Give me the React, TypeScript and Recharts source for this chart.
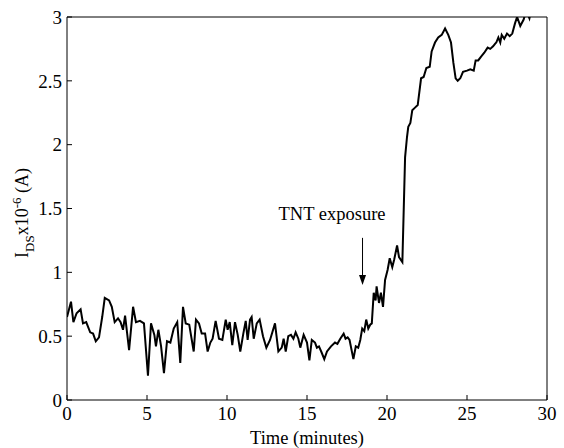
import { LineChart, Line, XAxis, YAxis, ReferenceLine } from 'recharts'

// time in minutes
const minutes = [
  0, 0.25, 0.4, 0.6, 0.85, 1.0, 1.2, 1.45, 1.63, 1.8, 2.0, 2.2, 2.36, 2.63, 2.8, 2.98,
  3.19, 3.35, 3.5, 3.63, 3.88, 4.13, 4.31, 4.56, 4.81, 5.06, 5.25, 5.46, 5.56, 5.71,
  5.88, 6.06, 6.25, 6.46, 6.67, 6.89, 7.08, 7.25, 7.42, 7.64, 7.92, 8.06, 8.25, 8.42,
  8.63, 8.79, 8.96, 9.1, 9.29, 9.5, 9.71, 9.92, 10.04, 10.17, 10.33, 10.5, 10.67, 10.83,
  11.02, 11.17, 11.29, 11.44, 11.54, 11.67, 11.86, 12.04, 12.25, 12.46, 12.69, 13.0,
  13.21, 13.42, 13.54, 13.67, 13.83, 14.0, 14.15, 14.29, 14.46, 14.58, 14.79, 15.0,
  15.15, 15.3, 15.5, 15.62, 15.75, 15.92, 16.08, 16.25, 16.5, 16.75, 16.9, 17.08,
  17.29, 17.41, 17.54, 17.66, 17.9, 18.05, 18.2, 18.33, 18.45, 18.58, 18.7, 18.83,
  18.95, 19.05, 19.17, 19.29, 19.35, 19.5, 19.62, 19.75, 19.88, 20.04, 20.17, 20.33,
  20.45, 20.63, 20.75, 20.96, 21.13, 21.25, 21.33, 21.46, 21.58, 21.75, 21.92, 22.13,
  22.29, 22.46, 22.67, 22.79, 23.0, 23.2, 23.42, 23.63, 23.83, 24.0, 24.15, 24.29,
  24.42, 24.58, 24.75, 25.0, 25.21, 25.42, 25.54, 25.7, 25.88, 26.08, 26.29, 26.45,
  26.63, 26.75, 26.83, 26.96, 27.08, 27.17, 27.33, 27.5, 27.67, 27.83, 28.0, 28.13,
  28.33, 28.54, 28.7, 28.9, 29.0,
]

// I_DS in units of 1e-6 A
const current = [
  0.65, 0.77, 0.61, 0.68, 0.71, 0.6, 0.61, 0.53, 0.52, 0.46, 0.49, 0.65, 0.8, 0.78, 0.73, 0.61,
  0.64, 0.61, 0.55, 0.66, 0.39, 0.73, 0.61, 0.62, 0.6, 0.19, 0.6, 0.51, 0.42, 0.55,
  0.42, 0.21, 0.46, 0.45, 0.56, 0.61, 0.29, 0.73, 0.6, 0.59, 0.38, 0.63, 0.6, 0.52,
  0.52, 0.38, 0.45, 0.48, 0.62, 0.48, 0.47, 0.63, 0.55, 0.61, 0.43, 0.61, 0.51, 0.38,
  0.52, 0.62, 0.47, 0.63, 0.65, 0.48, 0.6, 0.63, 0.5, 0.41, 0.47, 0.6,
  0.38, 0.41, 0.48, 0.38, 0.5, 0.51, 0.48, 0.53, 0.48, 0.41, 0.51, 0.45,
  0.31, 0.47, 0.45, 0.41, 0.42, 0.37, 0.32, 0.38, 0.42, 0.45, 0.44, 0.48,
  0.52, 0.48, 0.49, 0.47, 0.32, 0.42, 0.41, 0.47, 0.56, 0.54, 0.63, 0.56,
  0.59, 0.6, 0.84, 0.78, 0.89, 0.76, 0.84, 0.73, 0.94, 1.02, 1.11, 1.04,
  1.1, 1.21, 1.12, 1.08, 1.9, 2.06, 2.14, 2.17, 2.27, 2.29, 2.31, 2.52,
  2.53, 2.6, 2.61, 2.73, 2.8, 2.84, 2.86, 2.91, 2.86, 2.8, 2.64, 2.52,
  2.5, 2.52, 2.57, 2.58, 2.59, 2.58, 2.66, 2.66, 2.69, 2.72, 2.76, 2.75,
  2.77, 2.79, 2.8, 2.84, 2.8, 2.86, 2.83, 2.87, 2.85, 2.87, 2.95, 3.0,
  2.93, 2.98, 3.05, 2.99, 3.05,
]

const xTicks = [0, 5, 10, 15, 20, 25, 30]
const yTicks = [0, 0.5, 1, 1.5, 2, 2.5, 3]

// TNT exposure arrow (time, from, to)
const exposureTime = 18.47
const exposureFrom = 1.27
const exposureTo = 0.9

const data = minutes.map((t, i) => ({ t, ids: current[i] }))

const serif = '"Liberation Serif", "Times New Roman", serif'
const tickStyle = { fontSize: 19, fill: '#000', fontFamily: serif }

function ExposureArrow(props: any) {
  const { x1, y1, x2, y2 } = props
  if (x1 == null || y1 == null) return null
  return (
    <g>
      <line x1={x1} y1={y1} x2={x2} y2={y2 - 9} stroke="#000" strokeWidth={1} />
      <polygon points={`${x2 - 3.5},${y2 - 10} ${x2 + 3.5},${y2 - 10} ${x2},${y2}`} fill="#000" />
      <text x={x1 + 23} y={y1 - 18} textAnchor="end" fontSize={18.5} fontFamily={serif} fill="#000">
        TNT exposure
      </text>
    </g>
  )
}

function YTitle() {
  return (
    <text
      x={28}
      y={213}
      transform="rotate(-90, 28, 213)"
      textAnchor="middle"
      fontFamily={serif}
      fontSize={18}
      fill="#000"
    >
      <tspan>I</tspan>
      <tspan dy={6} fontSize={13}>DS</tspan>
      <tspan dy={-6}>x10</tspan>
      <tspan dy={-7} fontSize={13}>-6</tspan>
      <tspan dy={7}> (A)</tspan>
    </text>
  )
}

function XTitle() {
  return (
    <text x={307} y={444} textAnchor="middle" fontFamily={serif} fontSize={18.5} fill="#000">
      Time (minutes)
    </text>
  )
}

export default function App() {
  return (
    <div style={{ position: 'absolute', left: 0, top: 0, background: '#fff' }}>
      <LineChart width={564} height={448} data={data} margin={{ top: 16, right: 16, bottom: 47, left: 66 }}>
        <XAxis
          xAxisId="b"
          dataKey="t"
          type="number"
          domain={[0, 30]}
          ticks={xTicks}
          interval={0}
          allowDataOverflow
          orientation="bottom"
          height={1}
          tickSize={-5}
          tickMargin={12}
          tick={tickStyle}
          axisLine={{ stroke: '#000', strokeWidth: 1 }}
          tickLine={{ stroke: '#000' }}
          label={{ content: () => <XTitle /> }}
        />
        <XAxis
          xAxisId="t"
          dataKey="t"
          type="number"
          domain={[0, 30]}
          ticks={xTicks}
          interval={0}
          allowDataOverflow
          orientation="top"
          height={1}
          tickSize={-5}
          tick={false}
          axisLine={{ stroke: '#000', strokeWidth: 1 }}
          tickLine={{ stroke: '#000' }}
        />
        <YAxis
          yAxisId="l"
          type="number"
          domain={[0, 3]}
          ticks={yTicks}
          interval={0}
          allowDataOverflow
          width={1}
          tickSize={-5}
          tickMargin={10}
          tick={tickStyle}
          axisLine={{ stroke: '#000', strokeWidth: 1 }}
          tickLine={{ stroke: '#000' }}
          label={{ content: () => <YTitle /> }}
        />
        <YAxis
          yAxisId="r"
          orientation="right"
          type="number"
          domain={[0, 3]}
          ticks={yTicks}
          interval={0}
          allowDataOverflow
          width={1}
          tickSize={-5}
          tick={false}
          axisLine={{ stroke: '#000', strokeWidth: 1 }}
          tickLine={{ stroke: '#000' }}
        />
        <Line
          xAxisId="b"
          yAxisId="l"
          type="linear"
          dataKey="ids"
          stroke="#000"
          strokeWidth={2}
          dot={false}
          isAnimationActive={false}
        />
        <ReferenceLine
          xAxisId="b"
          yAxisId="l"
          segment={[
            { x: exposureTime, y: exposureFrom },
            { x: exposureTime, y: exposureTo },
          ]}
          shape={(p: any) => <ExposureArrow {...p} />}
        />
      </LineChart>
    </div>
  )
}
